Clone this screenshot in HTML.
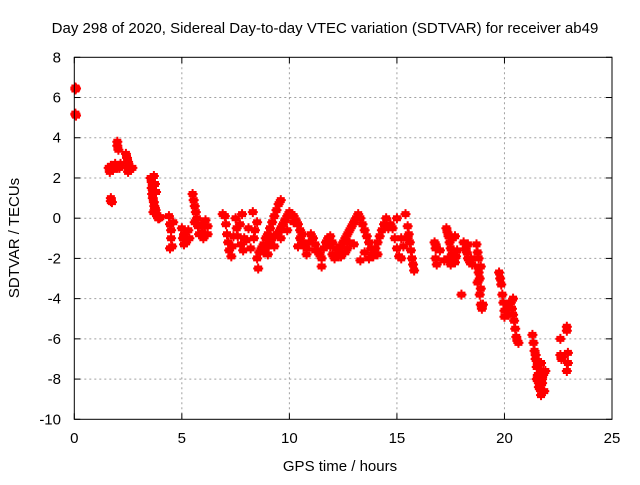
<!DOCTYPE html>
<html><head><meta charset="utf-8"><style>
body{margin:0;background:#fff;}
svg text{font-family:"Liberation Sans",sans-serif;font-size:15px;fill:#000;}
</style></head><body>
<svg id="chart" width="640" height="480" viewBox="0 0 640 480" xmlns="http://www.w3.org/2000/svg">
<rect width="640" height="480" fill="#fff"/>
<text x="325" y="33" text-anchor="middle">Day 298 of 2020, Sidereal Day-to-day VTEC variation (SDTVAR) for receiver ab49</text>
<g id="grid"></g>
<g id="ticks"></g>
<g id="marks"></g>
<rect x="74.3" y="57.3" width="537.7" height="362" fill="none" stroke="#000" stroke-width="1"/>
<text x="340" y="471" text-anchor="middle">GPS time / hours</text>
<text transform="translate(19,238) rotate(-90)" text-anchor="middle">SDTVAR / TECUs</text>
</svg>
<script>
const xTicks=[0,5,10,15,20,25];
const yTicks=[-10,-8,-6,-4,-2,0,2,4,6,8];
const times=[0.05,0.05,0.05,0.05,0.08,0.08,
1.7,1.7,1.75,1.6,1.7,1.8,1.9,2.0,1.65,1.85,2.0,2.0,2.05,2.1,2.1,2.15,
2.4,2.45,2.5,2.5,2.55,2.6,2.7,2.5,
3.55,3.6,3.6,3.62,3.65,3.7,3.72,3.75,3.78,3.8,3.85,3.9,3.95,4.0,3.7,3.75,3.8,3.68,
4.4,4.45,4.5,4.5,4.55,4.6,4.45,
5.0,5.05,5.1,5.1,5.2,5.3,5.35,5.5,5.55,5.6,5.65,5.7,5.75,5.8,5.6,5.9,5.95,6.0,6.05,6.2,6.2,6.1,
6.9,7.0,7.05,7.1,7.15,7.2,7.3,7.35,7.4,7.5,7.55,7.6,7.7,7.8,7.75,7.85,7.9,
8.0,8.1,8.2,8.3,8.35,8.4,8.5,8.5,8.55,8.6,8.7,8.8,8.9,9.0,9.1,9.2,9.3,9.4,9.5,9.6,
8.8,8.9,9.0,9.1,9.2,9.3,9.4,9.5,9.6,9.7,9.8,9.9,10.0,10.1,10.2,10.3,10.4,10.5,10.6,
10.4,10.5,10.6,10.7,10.8,10.9,11.0,11.1,11.2,11.3,11.4,11.5,11.5,11.6,11.7,
11.8,11.9,12.0,12.1,12.2,12.3,12.4,12.5,12.6,12.7,12.8,12.9,13.0,13.1,12.0,12.2,12.4,12.6,12.8,
13.2,13.3,13.4,13.5,13.6,13.7,13.8,13.9,14.0,14.1,14.2,14.3,14.4,14.5,14.6,13.5,13.7,13.9,14.1,
14.8,14.9,15.0,15.1,15.2,15.3,15.0,15.4,15.5,15.55,15.6,15.65,15.7,15.75,15.8,15.5,
16.75,16.8,16.8,16.85,16.8,
17.3,17.35,17.4,17.45,17.5,17.55,17.6,17.7,17.75,17.8,17.5,17.6,17.4,17.7,
18.0,18.1,18.2,18.25,18.3,18.4,18.5,18.3,18.45,
18.7,18.75,18.8,18.8,18.85,18.9,18.9,18.95,19.0,18.8,18.9,18.75,18.85,
19.75,19.8,19.85,19.9,19.95,20.0,20.0,20.1,20.15,20.2,20.3,20.35,20.4,20.45,20.5,20.55,20.6,20.65,20.4,
21.3,21.35,21.4,21.45,21.5,21.55,21.6,21.65,21.7,21.75,21.8,21.85,21.9,21.5,21.6,21.7,21.8,21.45,21.55,21.65,21.75,
22.6,22.6,22.65,22.7,22.9,22.9,22.95,22.9,22.95,
9.0,9.3,9.6,9.9,10.2,10.8,11.2,11.9,12.3,12.7,13.0,13.3,14.7,15.2,17.0,17.2];
const values=[6.5,6.4,5.2,5.15,6.45,5.1,
1.0,0.85,0.8,2.5,2.6,2.4,2.7,2.5,2.3,2.55,3.8,3.6,3.4,2.5,2.6,2.7,
3.2,3.0,2.5,2.3,2.6,2.4,2.5,2.8,
2.0,1.8,1.5,1.2,1.0,0.8,0.6,0.5,0.4,0.2,0.1,0.0,0.0,0.05,2.1,1.7,1.3,0.3,
0.1,-0.3,-0.6,-1.0,-1.4,-0.2,-1.5,
-0.5,-1.0,-1.3,-0.8,-1.2,-0.6,-1.0,1.2,0.9,0.6,0.3,0.0,-0.4,-0.8,-0.2,-0.3,-0.7,-1.0,-0.4,-0.4,-0.8,-0.1,
0.2,0.1,-0.3,-0.8,-1.2,-1.6,-1.9,-1.4,-0.9,0.0,-0.5,-0.9,-0.3,0.2,-1.3,-1.6,-1.0,
-1.1,-0.5,-1.5,0.3,-1.0,-0.6,-0.2,-2.0,-2.5,-1.7,-1.5,-1.3,-1.0,-0.8,-0.5,-0.2,0.1,0.4,0.7,0.9,
-1.7,-1.5,-1.4,-1.2,-1.0,-0.9,-0.8,-0.7,-0.5,-0.3,-0.1,0.1,0.3,0.2,0.1,-0.1,-0.3,-0.6,-0.8,
-1.4,-1.0,-1.2,-1.3,-1.5,-1.2,-0.8,-1.0,-1.3,-1.6,-1.8,-2.0,-2.4,-1.5,-1.2,
-1.0,-1.4,-1.8,-2.0,-1.8,-1.6,-1.4,-1.2,-1.0,-0.8,-0.6,-0.4,-0.2,0.0,-1.2,-1.5,-1.9,-1.7,-1.2,
0.2,0.0,-0.3,-0.6,-0.9,-1.2,-1.5,-1.8,-1.5,-1.2,-0.9,-0.6,-0.3,0.0,-0.5,-1.7,-2.0,-1.9,-1.8,
-0.5,-1.0,-1.5,-1.9,-2.0,-1.4,0.0,0.2,-0.4,-0.8,-1.2,-1.6,-2.0,-2.3,-2.6,-1.0,
-1.2,-1.5,-2.0,-2.3,-1.3,
-0.5,-0.7,-0.9,-1.2,-1.5,-1.8,-2.0,-2.2,-1.9,-1.6,-2.3,-1.0,-2.0,-0.9,
-3.8,-1.2,-1.5,-1.7,-2.0,-2.2,-2.3,-1.3,-2.0,
-1.3,-1.7,-2.0,-2.5,-3.0,-3.5,-4.3,-4.5,-4.3,-2.7,-2.4,-3.2,-3.8,
-2.7,-3.0,-3.3,-3.8,-4.2,-4.6,-4.9,-4.5,-4.3,-4.8,-4.2,-4.5,-4.8,-5.1,-5.5,-5.9,-6.1,-6.2,-4.0,
-5.8,-6.2,-6.6,-7.0,-7.4,-7.8,-8.2,-8.5,-8.8,-8.2,-7.8,-8.6,-7.6,-8.0,-8.4,-7.2,-7.6,-6.8,-7.2,-7.8,-8.0,
-6.0,-6.8,-7.0,-6.9,-5.4,-5.6,-7.2,-7.6,-6.7,
-1.8,-1.4,-1.0,-0.6,-0.2,-1.8,-1.6,-0.9,-1.9,-1.5,-1.3,-2.1,-0.3,-1.0,-1.6,-2.1];
const NS="http://www.w3.org/2000/svg";
const X0=74.3,X1=612,Y0=419.3,Y1=57.3;
function xs(t){return X0+(t-0)/(25-0)*(X1-X0);}
function ys(v){return Y0-(v+10)/(18)*(Y0-Y1);}
const grid=document.getElementById('grid'),ticks=document.getElementById('ticks'),marks=document.getElementById('marks');
function mk(tag,attrs,parent){const e=document.createElementNS(NS,tag);for(const k in attrs)e.setAttribute(k,attrs[k]);parent.appendChild(e);return e;}
xTicks.forEach(t=>{const x=xs(t);
 if(t>0&&t<25){const g=mk('line',{x1:x,x2:x,y1:Y1,y2:Y0,stroke:'#a0a0a0','stroke-dasharray':'2,3'},grid);
 
 }
 const l=mk('text',{x:x,y:443,'text-anchor':'middle'},ticks);l.textContent=t;
 
 
 mk('line',{x1:x,x2:x,y1:Y0,y2:Y0-6,stroke:'#000'},ticks);
 mk('line',{x1:x,x2:x,y1:Y1,y2:Y1+6,stroke:'#000'},ticks);});
yTicks.forEach(v=>{const y=ys(v);
 if(v>-10&&v<8){const g=mk('line',{x1:X0,x2:X1,y1:y,y2:y,stroke:'#a0a0a0','stroke-dasharray':'2,3'},grid);
 
 }
 const l=mk('text',{x:61,y:y+5,'text-anchor':'end'},ticks);l.textContent=v;
 
 
 mk('line',{x1:X0,x2:X0+6,y1:y,y2:y,stroke:'#000'},ticks);
 mk('line',{x1:X1,x2:X1-6,y1:y,y2:y,stroke:'#000'},ticks);});
times.forEach((t,i)=>{const x=xs(t),y=ys(values[i]);
 const p=mk('path',{d:`M${x-5},${y}H${x+5}M${x},${y-5}V${y+5}M${x-4},${y-2}H${x+4}M${x-4},${y+2}H${x+4}`,stroke:'#ff0000','stroke-width':'2',fill:'none'},marks);
 
 });
</script>
</body></html>
